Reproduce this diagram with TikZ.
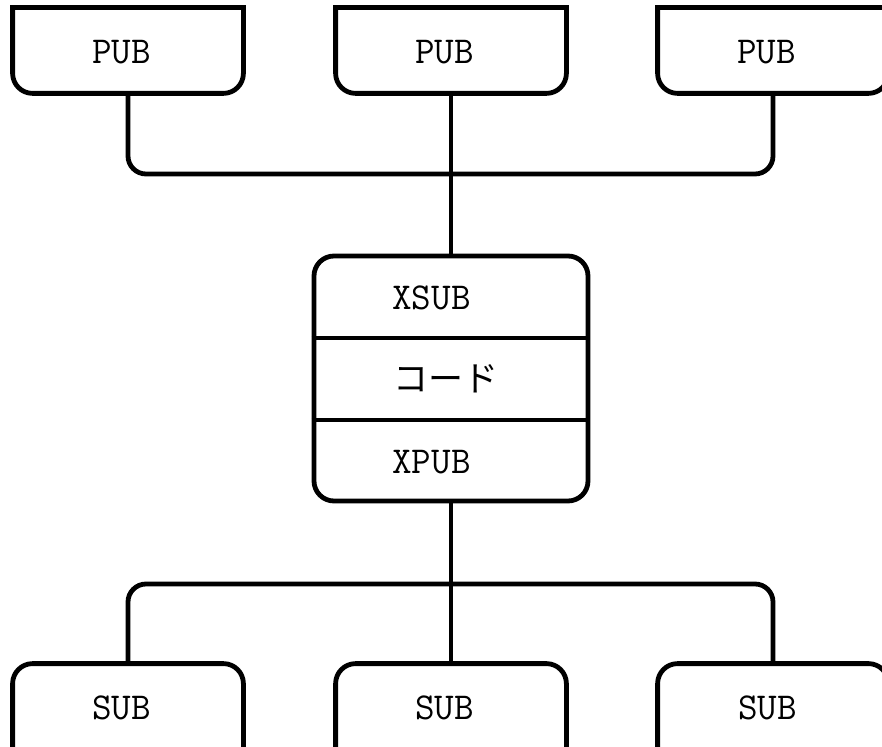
\documentclass[tikz,border=0pt]{standalone}
\usepackage{fontspec}
\setmonofont{Latin Modern Mono}
\newfontfamily\jpfont{Noto Sans CJK JP}
\begin{document}
\begin{tikzpicture}[x=0.5pt,y=-0.5pt,
  line width=2.4pt,
  boxshape/.style={shape=rectangle,inner sep=0pt,draw=none,
    minimum width=113pt},
  pubbox/.style={boxshape,minimum height=40.5pt},
  subbox/.style={boxshape,minimum height=50pt},
  lbl/.style={inner sep=0pt,font=\fontsize{19}{22}\selectfont\ttfamily},
  jlbl/.style={inner sep=0pt,font=\fontsize{17.5}{21}\selectfont\jpfont},
  conn/.style={rounded corners=9pt}]
\useasboundingbox (0,0) rectangle (882,747);

% publishers (top row): square top corners, rounded bottom corners
\foreach \n/\x in {pub1/128,pub2/451,pub3/773}{
  \node[pubbox] (\n) at (\x,50.5) {};
  \draw (\n.north east) -- (\n.north west)
        -- ([yshift=10pt]\n.south west)
        arc[start angle=180,end angle=270,radius=10pt]
        -- ([xshift=-10pt]\n.south east)
        arc[start angle=270,end angle=360,radius=10pt]
        -- cycle;
}
\node[lbl] (pub1t) at (121.7,52) {PUB};
\node[lbl] (pub2t) at (444.5,52) {PUB};
\node[lbl] (pub3t) at (766.7,52) {PUB};

% forwarder in the middle
\node[draw,rounded corners=10pt,inner sep=0pt,minimum width=137pt,
      minimum height=122.5pt] (mid) at (451,378.5) {};
\draw (mid.west |- 0,338) -- (mid.east |- 0,338);
\draw (mid.west |- 0,420) -- (mid.east |- 0,420);
\node[lbl] (xsub) at (431.5,298) {XSUB};
\node[jlbl] (code) at (446,379) {コード};
\node[lbl] (xpub) at (431.5,462) {XPUB};

% subscribers (bottom row): rounded top corners, open below
\foreach \n/\x in {sub1/128,sub2/451,sub3/773}{
  \node[subbox] (\n) at (\x,716) {};
  \draw[rounded corners=10pt] (\n.south west) -- (\n.north west)
        -- (\n.north east) -- (\n.south east);
}
\node[lbl] (sub1t) at (121.7,708) {SUB};
\node[lbl] (sub2t) at (444.5,708) {SUB};
\node[lbl] (sub3t) at (767.5,708) {SUB};

% connectors
\coordinate (jt) at (451,174);
\coordinate (jb) at (451,584);
\draw[conn] (pub1.south) |- (jt) -| (pub3.south);
\draw (pub2.south) -- (mid.north);
\draw (mid.south) -- (sub2.north);
\draw[conn] (sub1.north) |- (jb) -| (sub3.north);
\end{tikzpicture}
\end{document}
